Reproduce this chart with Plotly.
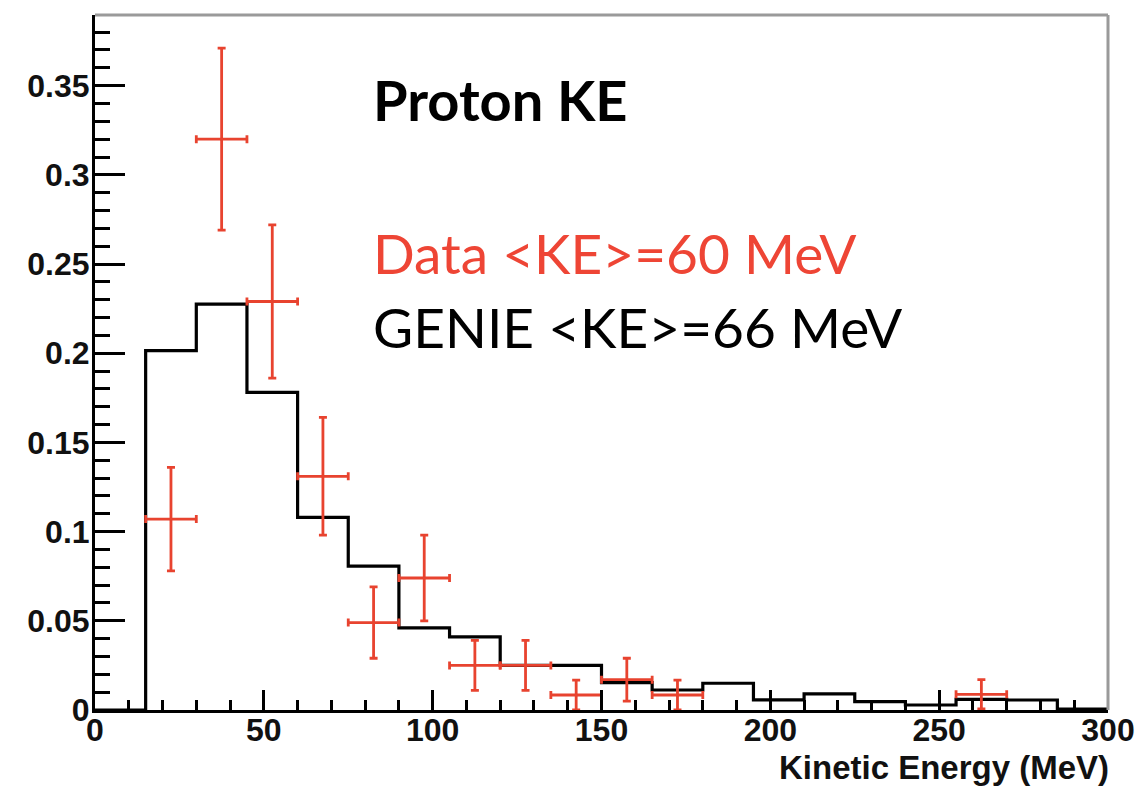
import plotly.graph_objects as go

# GENIE prediction: 15 MeV bins from 0 to 300 MeV
bin_edges = [0, 15, 30, 45, 60, 75, 90, 105, 120, 135, 150, 165, 180, 195,
             210, 225, 240, 255, 270, 285, 300]
genie_frac = [0.0, 0.2015, 0.2275, 0.178, 0.108, 0.0806, 0.046, 0.041, 0.025,
              0.025, 0.0153, 0.0112, 0.015, 0.0057, 0.009, 0.0047, 0.0028,
              0.006, 0.0056, 0.0005]

# Measured proton kinetic energy (bin centres, fraction, uncertainty)
data_ke = [22.5, 37.5, 52.5, 67.5, 82.5, 97.5, 112.5, 127.5, 142.5, 157.5,
           172.5, 262.5]
data_frac = [0.107, 0.320, 0.229, 0.131, 0.049, 0.074, 0.025, 0.025, 0.0084,
             0.017, 0.0084, 0.0088]
data_err = [0.029, 0.051, 0.043, 0.033, 0.020, 0.024, 0.014, 0.014, 0.0084,
            0.012, 0.0084, 0.0082]
half_bin = 7.5

x_ticks = [0, 50, 100, 150, 200, 250, 300]
y_ticks = [0, 0.05, 0.1, 0.15, 0.2, 0.25, 0.3, 0.35]
y_tick_text = ["0", "0.05", "0.1", "0.15", "0.2", "0.25", "0.3", "0.35"]

RED = "#e8432f"
TXT_RED = "#ee4535"

fig = go.Figure()

# step histogram
fig.add_trace(go.Scatter(
    x=bin_edges,
    y=genie_frac + [genie_frac[-1]],
    mode="lines",
    line=dict(shape="hv", color="black", width=3.2),
    hoverinfo="skip",
    showlegend=False,
))

# data points with error crosses
fig.add_trace(go.Scatter(
    x=data_ke,
    y=data_frac,
    mode="markers",
    marker=dict(size=3, color=RED),
    error_y=dict(type="data", array=data_err, color=RED, thickness=2.8, width=4),
    error_x=dict(type="constant", value=half_bin, color=RED, thickness=2.8, width=4),
    showlegend=False,
))

tick_font = dict(family="Liberation Sans", size=32, color="#111111", weight="bold")

fig.update_xaxes(
    range=[0, 300],
    tickvals=x_ticks,
    ticktext=[str(v) for v in x_ticks],
    ticks="inside", ticklen=20, tickwidth=3, tickcolor="black",
    minor=dict(ticks="inside", dtick=10, ticklen=10, tickwidth=2.5, tickcolor="black"),
    showline=True, linecolor="black", linewidth=3,
    showgrid=False, zeroline=False,
    tickfont=tick_font,
    ticklabelstandoff=-10,
)
fig.update_yaxes(
    range=[0, 0.3896],
    tickvals=y_ticks,
    ticktext=y_tick_text,
    ticks="inside", ticklen=30, tickwidth=3, tickcolor="black",
    minor=dict(ticks="inside", dtick=0.01, ticklen=15, tickwidth=2.5, tickcolor="black"),
    showline=True, linecolor="black", linewidth=3,
    showgrid=False, zeroline=False,
    tickfont=tick_font,
    ticklabelstandoff=-4,
)

# grey frame on top and right
fig.add_shape(type="line", xref="paper", yref="paper", x0=0, x1=1, y0=1, y1=1,
              line=dict(color="#9a9a9a", width=3))
fig.add_shape(type="line", xref="paper", yref="paper", x0=1, x1=1, y0=0, y1=1,
              line=dict(color="#9a9a9a", width=3))

fig.add_annotation(text="Kinetic Energy (MeV)", xref="paper", yref="paper",
                   x=1.003, y=-0.083, xanchor="right", yanchor="middle",
                   showarrow=False,
                   font=dict(family="Liberation Sans", size=33, color="#111111",
                             weight="bold"))

fig.add_annotation(text="Proton KE", xref="paper", yref="paper",
                   x=(371 - 95) / 1013, y=(710 - 99) / 695,
                   xanchor="left", yanchor="middle", showarrow=False,
                   font=dict(family="Lato", size=56, color="black", weight="bold"))
fig.add_annotation(text="Data &lt;KE&gt;=60 MeV", xref="paper", yref="paper",
                   x=(371 - 95) / 1013, y=(710 - 253) / 695,
                   xanchor="left", yanchor="middle", showarrow=False,
                   font=dict(family="Lato", size=55, color=TXT_RED))
fig.add_annotation(text="GENIE &lt;KE&gt;=66 MeV", xref="paper", yref="paper",
                   x=(371 - 95) / 1013, y=(710 - 327) / 695,
                   xanchor="left", yanchor="middle", showarrow=False,
                   font=dict(family="Lato", size=55, color="black"))

fig.update_layout(
    width=1148, height=799,
    margin=dict(l=95, r=40, t=15, b=89),
    paper_bgcolor="white", plot_bgcolor="white",
)

fig.write_html("out.html")
